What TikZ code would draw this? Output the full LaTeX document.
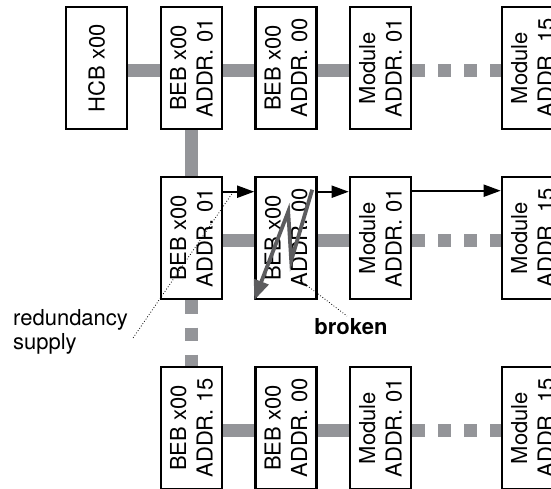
\documentclass[tikz,border=0pt]{standalone}
\usepackage{fontspec}
\setmainfont{TeX Gyre Heros}
\usetikzlibrary{arrows.meta,calc}
\definecolor{busgray}{RGB}{148,149,153}
\definecolor{breakgray}{RGB}{92,92,94}

\begin{document}
\begin{tikzpicture}[x=1pt,y=-1pt,
  unit/.style={draw, line width=2.6pt, fill=white, minimum width=61pt,
    minimum height=122pt, inner sep=0pt},
  utext/.style={rotate=90, align=center, inner sep=0pt,
    font=\fontsize{22}{26.5}\selectfont},
  lbl/.style={inner sep=0pt, font=\fontsize{22}{23.5}\selectfont},
  bus/.style={draw=busgray, line width=13pt},
  busdash/.style={bus, dash pattern=on 13pt off 13pt},
  vbusdash/.style={bus, dash pattern=on 13.6pt off 13.6pt},
  flow/.style={line width=1.9pt, -{Triangle[length=17pt,width=12pt]}},
  zig/.style={draw=breakgray, line width=3.8pt, line join=miter,
    -{Triangle[length=20pt,width=15pt,fill=breakgray]}},
  leader/.style={line width=0.8pt, dash pattern=on 0.8pt off 2pt}
]
\useasboundingbox (0,0) rectangle (551,488);
\clip (0,0) rectangle (551,488);

% unit boxes (placed first so the bus can use their anchors)
\path
  (96.5,68)  node[unit] (h11) {}
  (191.5,68) node[unit] (b12) {}
  (286,68)   node[unit] (b13) {}
  (380.5,68) node[unit] (m14) {}
  (532.5,68) node[unit] (m15) {}
  (191.5,238) node[unit] (b21) {}
  (286,238)   node[unit] (b22) {}
  (380.5,238) node[unit] (m23) {}
  (532.5,238) node[unit] (m24) {}
  (191.5,428) node[unit] (b31) {}
  (286,428)   node[unit] (b32) {}
  (380.5,428) node[unit] (m33) {}
  (532.5,428) node[unit] (m34) {};

% bus lines
\draw[bus] ([yshift=-2.5pt]h11.east) -- ([yshift=-2.5pt]b12.west);
\draw[bus] ([yshift=-2.5pt]b12.east) -- ([yshift=-2.5pt]b13.west);
\draw[bus] ([yshift=-2.5pt]b13.east) -- ([yshift=-2.5pt]m14.west);
\draw[busdash] ([yshift=-2.5pt]m14.east) -- ([yshift=-2.5pt]m15.west);
\draw[bus] (b12.south) -- (b21.north);
\draw[bus] ([yshift=-2.5pt]b21.east) -- ([yshift=-2.5pt]b22.west);
\draw[bus] ([yshift=-2.5pt]b22.east) -- ([yshift=-2.5pt]m23.west);
\draw[busdash] ([yshift=-2.5pt]m23.east) -- ([yshift=-2.5pt]m24.west);
\draw[vbusdash] (b21.south) -- (b31.north);
\draw[bus] ([yshift=-2.5pt]b31.east) -- ([yshift=-2.5pt]b32.west);
\draw[bus] ([yshift=-2.5pt]b32.east) -- ([yshift=-2.5pt]m33.west);
\draw[busdash] ([yshift=-2.5pt]m33.east) -- ([yshift=-2.5pt]m34.west);

% boxes on top of the bus
\foreach \n in {h11,b12,b13,m14,m15,b21,b22,m23,m24,b31,b32,m33,m34}
  \node[unit] at (\n) {};

% box texts
\node[utext] (t11) at (h11) {HCB x00};
\node[utext] (t12) at (b12) {BEB x00\\ADDR. 01};
\node[utext] (t13) at (b13) {BEB x00\\ADDR. 00};
\node[utext] (t14) at (m14) {Module\\ADDR. 01};
\node[utext] (t15) at (m15) {Module\\ADDR. 15};
\node[utext] (t21) at (b21) {BEB x00\\ADDR. 01};
\node[utext] (t22) at (b22) {BEB x00\\ADDR. 00};
\node[utext] (t23) at (m23) {Module\\ADDR. 01};
\node[utext] (t24) at (m24) {Module\\ADDR. 15};
\node[utext] (t31) at (b31) {BEB x00\\ADDR. 15};
\node[utext] (t32) at (b32) {BEB x00\\ADDR. 00};
\node[utext] (t33) at (m33) {Module\\ADDR. 01};
\node[utext] (t34) at (m34) {Module\\ADDR. 15};

% redundant supply path
\draw[flow] ([yshift=-16pt]b21.north east) -- ([yshift=-16pt]b22.north west);
\draw[flow] ([yshift=-16pt]b22.north east) -- ([yshift=-16pt]m23.north west);
\draw[flow] ([yshift=-15pt]m23.north east) -- ([yshift=-15pt]m24.north west);

% break symbol
\draw[zig] ($(b22.north west)+(58,14)$) -- ($(b22.north west)+(37,85)$)
  -- ($(b22.north west)+(34,36)$) -- (b22.south west);

% annotations
\node[lbl, align=left, anchor=north west] (red) at (13,309.5) {redundancy\\supply};
\node[lbl, anchor=north, font=\fontsize{22}{23.5}\selectfont\bfseries] (brk) at (351,318) {broken};
\coordinate (redA) at ($(red.east)+(5,6)$);
\coordinate (redB) at ($(b21.north east)+(10,16)$);
\draw[leader] (redA) -- (redB);
\coordinate (brkA) at ($(b22.south west)+(46,-20)$);
\coordinate (brkB) at ($(brk.north)+(-4,-2)$);
\draw[leader] (brkA) -- (brkB);
\end{tikzpicture}
\end{document}
